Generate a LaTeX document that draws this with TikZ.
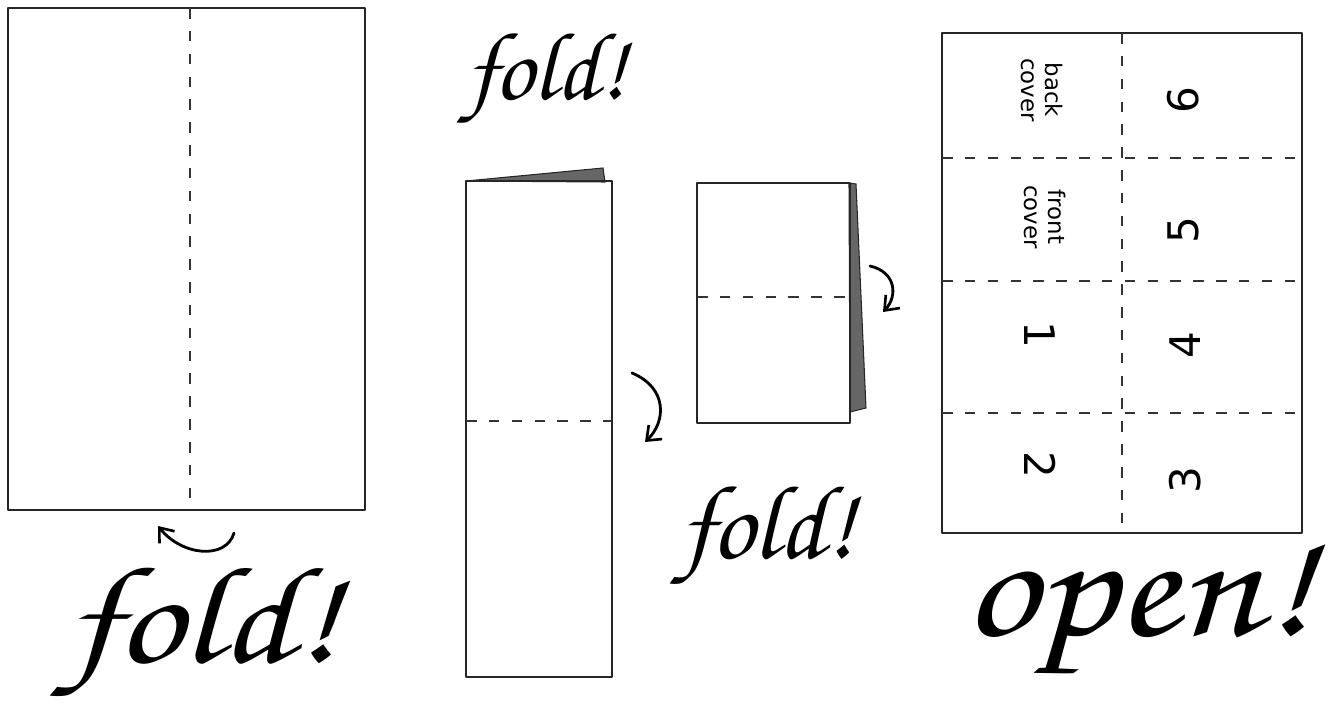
\documentclass[tikz,border=0pt]{standalone}
\usepackage{fontspec}
\newfontfamily\handfont{TeX Gyre Chorus}
\setsansfont{DejaVu Sans}
\usetikzlibrary{arrows.meta}

\begin{document}
\begin{tikzpicture}[
  x=0.02cm, y=-0.02cm,
  sheet/.style={draw=black!85, line width=0.9pt, line join=round},
  crease/.style={draw=black!80, line width=0.8pt, dash pattern=on 6pt off 7pt},
  flap/.style={draw=black!85, fill=black!60, line width=0.6pt},
  turn/.style={-{Straight Barb[length=7pt, width=11pt, line width=1.5pt]}, line width=1.6pt, line cap=round},
  hand/.style={font=\handfont, inner sep=0, anchor=base west},
  page/.style={font=\sffamily\fontsize{13}{14}\selectfont, align=center, inner sep=0},
  num/.style={font=\sffamily\fontsize{24}{24}\selectfont, inner sep=0},
]
\useasboundingbox (0,0) rectangle (1330,713);

% flat sheet
\draw[sheet] (8,8) rectangle (365,510);
\draw[crease] (190,8) -- (190,510);
\draw[turn] (234,533) .. controls (226,560) and (182,556) .. (158,526);
\node[hand, font=\handfont\fontsize{94}{94}\selectfont] (fold1) at (66,662) {\scalebox{1}[0.84]{fold!}};

% folded in half
\draw[flap] (466,181) -- (603,168) -- (605,182) -- cycle;
\draw[sheet] (466,181) rectangle (612,677);
\draw[crease] (466,421) -- (612,421);
\draw[turn] (632,373) .. controls (668,388) and (666,422) .. (645,442);
\node[hand, font=\handfont\fontsize{55}{55}\selectfont] (fold2) at (466,100) {fold!};

% folded in quarters
\draw[flap] (849,183) -- (856,184) -- (866,408) -- (850,412) -- cycle;
\draw[sheet] (697,183) rectangle (850,423);
\draw[crease] (697,297) -- (850,297);
\draw[turn] (870,266) .. controls (896,272) and (898,296) .. (883,312);
\node[hand, font=\handfont\fontsize{60}{60}\selectfont] (fold3) at (680,558) {fold!};

% opened out
\draw[sheet] (942,33) rectangle (1302,533);
\draw[crease] (1122,33) -- (1122,533);
\foreach \y in {158,281,413}
  \draw[crease] (942,\y) -- (1302,\y);
\node[page, rotate=-90] (back)  at (1042,90)  {back\\cover};
\node[page, rotate=-90] (front) at (1045,217) {front\\cover};
\node[num, rotate=-90] (p1) at (1040,335) {1};
\node[num, rotate=-90] (p2) at (1040,465) {2};
\node[num, rotate=90] (p6) at (1183,100) {6};
\node[num, rotate=90] (p5) at (1183,230) {5};
\node[num, rotate=90] (p4) at (1185,345) {4};
\node[num, rotate=90] (p3) at (1185,480) {3};
\node[hand, font=\handfont\fontsize{100}{100}\selectfont] (open) at (962,635) {\scalebox{1.04}[0.88]{open!}};
\end{tikzpicture}
\end{document}
